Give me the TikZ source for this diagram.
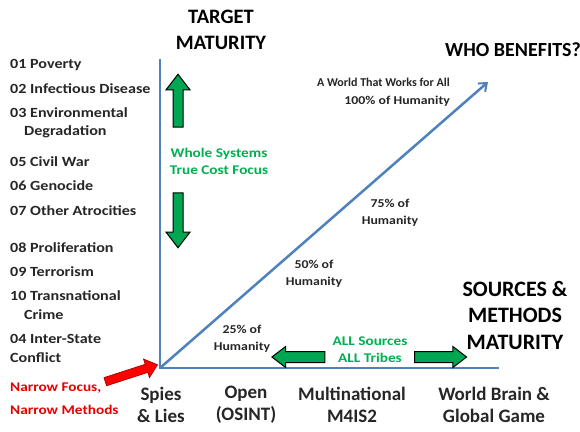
\documentclass[tikz,border=0pt]{standalone}
\usepackage{fontspec}
\setmainfont{Carlito}
\newfontfamily\widefont[FakeStretch=1.15]{Carlito}
\usetikzlibrary{shapes.arrows,arrows.meta}
\definecolor{axisblue}{RGB}{79,129,189}
\definecolor{arrowgreen}{RGB}{0,166,81}
\definecolor{txtgreen}{RGB}{0,176,80}
\definecolor{txtred}{RGB}{230,0,0}
\definecolor{txtgray}{RGB}{38,38,38}
\tikzset{
  listitem/.style={anchor=west,inner sep=0pt,font=\widefont\bfseries\fontsize{14}{15}\selectfont,text=txtgray},
  bigtitle/.style={align=center,inner sep=0pt,font=\bfseries\fontsize{20.5}{26}\selectfont,text=black},
  xlabel/.style={align=center,inner sep=0pt,font=\bfseries\fontsize{19}{22}\selectfont,text=txtgray},
  pct/.style={align=center,inner sep=0pt,font=\widefont\bfseries\fontsize{12}{17.5}\selectfont,text=txtgray},
  greentext/.style={align=center,inner sep=0pt,font=\widefont\bfseries\fontsize{13.3}{17}\selectfont,text=txtgreen},
  axisline/.style={draw=axisblue,line width=2pt},
  fatarrow/.style={single arrow,draw=black,line width=1pt,fill=arrowgreen,
    single arrow head indent=0pt,anchor=center,text width=0pt,text height=0pt,text depth=0pt},
}
\begin{document}
\begin{tikzpicture}[x=1pt,y=-1pt]
\useasboundingbox[fill=white] (0,0) rectangle (580,431);
% axes
\coordinate (O) at (160,368);
\coordinate (ytop) at (160,59);
\coordinate (xend) at (499,368);
\coordinate (dtip) at (488,82);
\draw[axisline] (ytop) -- (O) -- (xend);
\draw[axisline,line width=2.5pt,-{Straight Barb[length=7pt,width=11pt,line width=2pt]}] (O) -- (dtip);
% titles
\node[bigtitle] (tm) at (221,30) {TARGET\\MATURITY};
\node[bigtitle,font=\bfseries\fontsize{20}{26}\selectfont] (wb) at (513,50) {WHO BENEFITS?};
\node[bigtitle,font=\bfseries\fontsize{22}{26.5}\selectfont] (sm) at (515,315) {SOURCES \&\\METHODS\\MATURITY};
% list
\node[listitem] (l01) at (10,65) {01 Poverty};
\node[listitem] (l02) at (10,89) {02 Infectious Disease};
\node[listitem] (l03) at (10,113) {03 Environmental};
\node[listitem] (l03b) at (24,132) {Degradation};
\node[listitem] (l05) at (10,162) {05 Civil War};
\node[listitem] (l06) at (10,186) {06 Genocide};
\node[listitem] (l07) at (10,211) {07 Other Atrocities};
\node[listitem] (l08) at (10,248) {08 Proliferation};
\node[listitem] (l09) at (10,272) {09 Terrorism};
\node[listitem] (l10) at (10,296) {10 Transnational};
\node[listitem] (l10b) at (24,315) {Crime};
\node[listitem] (l04) at (10,339) {04 Inter-State};
\node[listitem] (l04b) at (10,358) {Conflict};
\node[listitem,text=txtred,align=left,font=\widefont\bfseries\fontsize{13.3}{23}\selectfont] (nf) at (10,399) {Narrow Focus,\\Narrow Methods};
% red arrow
\node[fatarrow,fill=red,draw=red!60!black,line width=0.6pt,minimum height=55pt,minimum width=19pt,inner sep=4pt,
  single arrow head extend=5.5pt,single arrow tip angle=80,rotate=18] (ra) at (129,374) {};
% percentages
\node[pct,align=right,anchor=east] (p100) at (450,92) {{\normalfont\bfseries\fontsize{12}{17.5}\selectfont A World That Works for All}\\100\% of Humanity};
\node[pct] (p75) at (390,213) {75\% of\\Humanity};
\node[pct] (p50) at (314,274) {50\% of\\Humanity};
\node[pct] (p25) at (242,339) {25\% of\\Humanity};
% green vertical
\node[fatarrow,minimum height=53pt,minimum width=23pt,inner sep=4.5pt,single arrow head extend=7pt,
  single arrow tip angle=75,rotate=90] (up) at (178,104) {};
\node[fatarrow,minimum height=55pt,minimum width=23pt,inner sep=4.5pt,single arrow head extend=7pt,
  single arrow tip angle=75,rotate=-90] (down) at (178,217) {};
\node[greentext] (ws) at (219,161) {Whole Systems\\True Cost Focus};
% green horizontal
\node[fatarrow,minimum height=53pt,minimum width=20pt,inner sep=5pt,single arrow head extend=5pt,
  single arrow tip angle=75,rotate=180] (left) at (302,357) {};
\node[fatarrow,minimum height=52pt,minimum width=20pt,inner sep=5pt,single arrow head extend=5pt,
  single arrow tip angle=75] (right) at (437,357) {};
\node[greentext] (as) at (370,350) {ALL Sources\\ALL Tribes};
% x labels
\node[xlabel] (x1) at (161,405) {Spies\\\& Lies};
\node[xlabel] (x2) at (246,405) {Open\\(OSINT)};
\node[xlabel] (x3) at (352,405) {Multinational\\M4IS2};
\node[xlabel] (x4) at (494,405) {World Brain \&\\Global Game};
\end{tikzpicture}
\end{document}
